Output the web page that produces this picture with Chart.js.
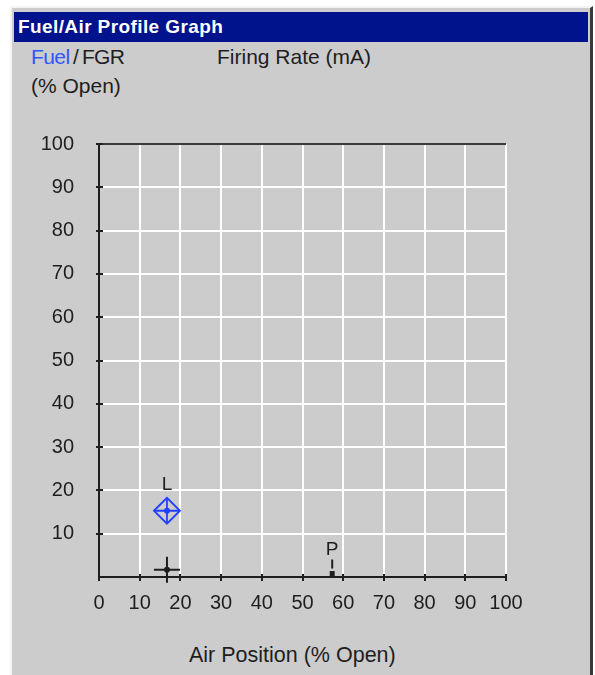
<!DOCTYPE html>
<html>
<head>
<meta charset="utf-8">
<title>Fuel/Air Profile Graph</title>
<script src="https://cdn.jsdelivr.net/npm/chart.js@4/dist/chart.umd.min.js"></script>
<style>
    body { margin: 0; background: #ffffff; width: 595px; height: 675px; overflow: hidden; position: relative; font-family: Arial, "Liberation Sans", sans-serif; }
    .panel { position: absolute; left: 10px; top: 6px; width: 583px; height: 669px; box-sizing: border-box; background: #cccccc; border-left: 2px solid #f4f4f4; border-top: 2px solid #f4f4f4; border-right: 3px solid #3a3a3a; }
    .titlebar { position: absolute; left: 14px; top: 12px; width: 574px; height: 30px; background: #00128c; color: #ffffff; font-weight: bold; font-size: 19px; letter-spacing: 0.4px; line-height: 30px; padding-left: 4px; box-sizing: border-box; }
    .txt { position: absolute; font-size: 21px; line-height: 24px; color: #1e1e1e; white-space: nowrap; }
    .fuel { color: #2f55ff; }
    #chart { position: absolute; left: 0; top: 0; }
</style>
</head>
<body>
<div class="panel"></div>
<div class="titlebar">Fuel/Air Profile Graph</div>
<div class="txt" style="left:31px; top:45px; letter-spacing:-0.6px;"><span class="fuel">Fuel</span>&thinsp;/&thinsp;FGR</div>
<div class="txt" style="left:31px; top:74px;">(% Open)</div>
<div class="txt" style="left:217px; top:45px;">Firing Rate (mA)</div>
<div class="txt" style="left:189px; top:643px; font-size:21.5px;">Air Position (% Open)</div>
<canvas id="chart" width="595" height="675"></canvas>
<script>
// Axis ticks
const xTicks = [0, 10, 20, 30, 40, 50, 60, 70, 80, 90, 100];
const yTicks = [10, 20, 30, 40, 50, 60, 70, 80, 90, 100];

// Profile points (air % open vs fuel / FGR % open)
const lightOffAir = [16.7];
const lightOffFuel = [15.3];
const currentAir = [16.7];
const currentFgr = [1.7];
const purgeAir = [57.3];
const purgeFgr = [0.8];

const BLUE = "#2040ff";
const DARK = "#1e1e1e";

function pts(xs, ys) {
    return xs.map((x, i) => ({ x: x, y: ys[i] }));
}

// Short marks crossing each axis at every tick
const axisMarks = {
    id: "axisMarks",
    afterDraw(chart) {
        const ctx = chart.ctx;
        const xs = chart.scales.x;
        const ys = chart.scales.y;
        ctx.save();
        ctx.strokeStyle = DARK;
        ctx.lineWidth = 2;
        ctx.beginPath();
        yTicks.forEach((v) => {
            const py = Math.round(ys.getPixelForValue(v));
            ctx.moveTo(xs.left - 3, py);
            ctx.lineTo(xs.left + 4, py);
        });
        xTicks.forEach((v) => {
            const px = Math.round(xs.getPixelForValue(v));
            ctx.moveTo(px, ys.bottom - 3);
            ctx.lineTo(px, ys.bottom + 4);
        });
        ctx.stroke();
        ctx.restore();
    },
};

// Letter labels above the marked points
const pointLetters = {
    id: "pointLetters",
    afterDatasetsDraw(chart) {
        const ctx = chart.ctx;
        ctx.save();
        ctx.font = "19px Arial, 'Liberation Sans', sans-serif";
        ctx.textAlign = "center";
        ctx.textBaseline = "middle";
        ctx.fillStyle = DARK;
        chart.data.datasets.forEach((ds, i) => {
            if (!ds.letter) return;
            const el = chart.getDatasetMeta(i).data[0];
            if (!el) return;
            ctx.fillText(ds.letter, el.x, el.y - ds.letterGap);
            if (ds.stem) {
                ctx.strokeStyle = DARK;
                ctx.lineWidth = 2;
                ctx.beginPath();
                ctx.moveTo(el.x, el.y - 14);
                ctx.lineTo(el.x, el.y - 5);
                ctx.stroke();
            }
        });
        ctx.restore();
    },
};

Chart.defaults.font.family = "Arial, 'Liberation Sans', sans-serif";
Chart.defaults.color = DARK;

new Chart(document.getElementById("chart"), {
    type: "scatter",
    data: {
        datasets: [
            {
                label: "Light off",
                data: pts(lightOffAir, lightOffFuel),
                pointStyle: "rectRot",
                pointRadius: 13,
                borderColor: BLUE,
                backgroundColor: "transparent",
                borderWidth: 1.8,
                letter: "L",
                letterGap: 26,
                clip: false,
            },
            {
                label: "Light off cross",
                data: pts(lightOffAir, lightOffFuel),
                pointStyle: "cross",
                pointRadius: 13,
                borderColor: BLUE,
                borderWidth: 1.8,
                clip: false,
            },
            {
                label: "Light off dot",
                data: pts(lightOffAir, lightOffFuel),
                pointStyle: "circle",
                pointRadius: 3,
                borderColor: BLUE,
                backgroundColor: BLUE,
                borderWidth: 0,
                clip: false,
            },
            {
                label: "Current",
                data: pts(currentAir, currentFgr),
                pointStyle: "cross",
                pointRadius: 13,
                borderColor: DARK,
                borderWidth: 2,
                clip: false,
            },
            {
                label: "Current dot",
                data: pts(currentAir, currentFgr),
                pointStyle: "circle",
                pointRadius: 3,
                borderColor: DARK,
                backgroundColor: DARK,
                borderWidth: 0,
                clip: false,
            },
            {
                label: "Purge",
                data: pts(purgeAir, purgeFgr),
                pointStyle: "rect",
                pointRadius: 3.5,
                borderColor: DARK,
                backgroundColor: DARK,
                borderWidth: 0,
                letter: "P",
                letterGap: 24,
                stem: true,
                clip: false,
            },
        ],
    },
    options: {
        responsive: false,
        animation: false,
        events: [],
        layout: { padding: { left: 0, top: 144, right: 89, bottom: 0 } },
        plugins: {
            legend: { display: false },
            tooltip: { enabled: false },
        },
        scales: {
            x: {
                type: "linear",
                min: 0,
                max: 100,
                afterBuildTicks: (scale) => {
                    scale.ticks = xTicks.map((v) => ({ value: v }));
                },
                afterFit: (scale) => {
                    scale.height = 98;
                },
                ticks: { font: { size: 20 }, padding: 14, color: DARK },
                grid: {
                    color: "#ffffff",
                    lineWidth: 2,
                    drawTicks: false,
                },
                border: { color: DARK, width: 2 },
            },
            y: {
                type: "linear",
                min: 0,
                max: 100,
                afterBuildTicks: (scale) => {
                    scale.ticks = yTicks.map((v) => ({ value: v }));
                },
                afterFit: (scale) => {
                    scale.width = 99;
                },
                ticks: { font: { size: 20 }, padding: 25, color: DARK },
                grid: {
                    color: (c) => (c.tick && c.tick.value === 100 ? "#3a3a3a" : "#ffffff"),
                    lineWidth: 2,
                    drawTicks: false,
                },
                border: { color: DARK, width: 2 },
            },
        },
    },
    plugins: [axisMarks, pointLetters],
});
</script>
</body>
</html>
